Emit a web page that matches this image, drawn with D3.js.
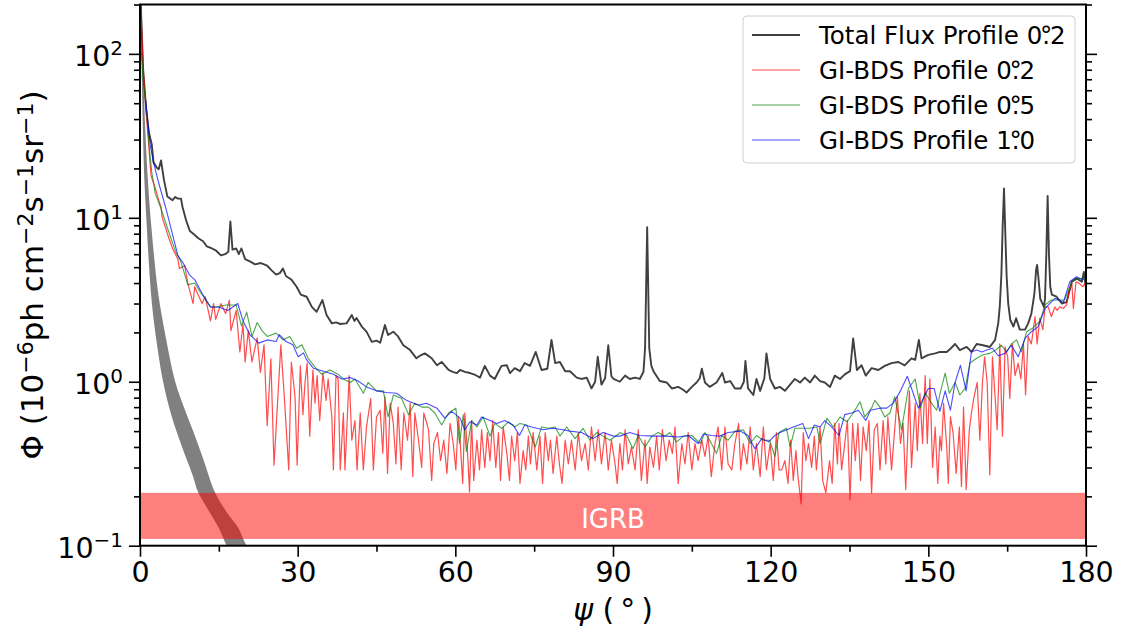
<!DOCTYPE html>
<html>
<head>
<meta charset="utf-8">
<script src="https://d3js.org/d3.v7.min.js"></script>
<style>
  body { margin: 0; background: #fff; }
  text { font-family: "DejaVu Sans", sans-serif; }
</style>
</head>
<body>
<div id="plot"></div>
<script>
// set the dimensions and margins of the graph
var margin = {top: 4.5, right: 35, bottom: 84.3, left: 140},
    width = 1121 - margin.left - margin.right,
    height = 630 - margin.top - margin.bottom;

// total flux profile 0.2 deg  [psi, flux]
var totalFlux = [[0.1,220],[0.6,80],[1.2,45],[1.7,33],[2.25,27.9],[2.57,21.8],[3.2,20.2],[3.56,19.8],[4.0,22.4],[4.55,17.1],[5.2,13.5],[6.2,12.8],[6.7,13.4],[7.2,13.1],[7.8,13.1],[8.1,11.6],[8.8,9.6],[9.5,8.3],[10.3,7.9],[11.1,7.5],[12.0,7.2],[12.7,6.7],[13.7,6.5],[14.5,6.3],[15.4,5.9],[16.2,6.0],[16.8,6.2],[17.2,9.5],[17.6,6.4],[18.3,6.5],[18.8,6.0],[19.3,6.5],[20.0,5.6],[21.0,5.4],[21.9,5.2],[23.0,5.3],[24.2,5.1],[25.0,4.8],[25.9,4.5],[26.6,4.6],[27.2,4.9],[27.8,4.4],[28.8,4.2],[29.8,3.8],[30.6,3.4],[31.7,3.3],[32.7,2.86],[33.6,2.67],[34.7,3.15],[35.5,2.55],[36.5,2.27],[37.3,2.3],[38.1,2.25],[39.3,2.27],[40.3,2.55],[40.8,2.35],[41.2,2.45],[42.2,2.17],[43.1,2.02],[44.1,1.75],[45.0,1.78],[45.7,1.73],[46.6,2.22],[47.2,1.93],[48.2,2.02],[49.1,1.89],[50.1,1.67],[51.4,1.56],[52.6,1.39],[53.4,1.45],[54.2,1.49],[55.5,1.39],[56.5,1.26],[57.4,1.32],[58.7,1.18],[59.5,1.15],[60.3,1.13],[60.9,1.18],[61.8,1.15],[62.8,1.13],[63.8,1.1],[64.7,1.06],[65.6,1.25],[66.6,1.09],[67.5,1.04],[68.2,1.15],[68.8,1.25],[69.8,1.26],[70.4,1.13],[71.3,1.21],[72.3,1.16],[73.2,1.30],[74.2,1.25],[75.3,1.52],[76.4,1.18],[77.5,1.2],[78.3,1.80],[79.0,1.30],[79.9,1.32],[80.9,1.16],[81.8,1.16],[83.1,1.06],[84.0,1.04],[85.0,1.06],[85.9,0.91],[86.6,1.0],[87.1,1.42],[87.8,0.96],[88.5,1.05],[89.1,1.67],[89.7,1.08],[90.1,1.04],[91.3,1.0],[92.3,1.09],[93.2,1.04],[94.2,1.06],[95.1,1.04],[95.8,1.15],[96.1,1.6],[96.5,8.75],[96.9,1.6],[97.3,1.25],[97.7,1.16],[98.9,1.01],[100.2,0.99],[101.2,0.91],[102.4,0.93],[103.2,0.9],[104.0,0.86],[105.0,0.93],[105.9,0.99],[106.5,1.05],[106.9,1.2],[107.5,0.99],[108.4,0.93],[109.7,0.99],[110.8,1.13],[111.3,0.99],[112.3,1.01],[113.2,0.91],[114.3,0.91],[114.9,1.0],[115.2,1.34],[115.7,0.91],[116.7,0.83],[117.3,1.04],[118.0,0.88],[118.8,1.05],[119.2,1.49],[119.9,1.04],[120.8,0.91],[121.8,0.93],[122.7,0.88],[123.7,0.96],[124.6,1.04],[125.6,0.99],[126.5,1.06],[127.5,0.99],[128.4,1.09],[129.4,1.01],[130.3,0.99],[131.3,0.93],[132.2,1.09],[133.2,1.04],[134.1,1.11],[135.1,1.16],[135.7,1.84],[136.4,1.18],[137.3,1.26],[138.1,1.09],[139.2,1.21],[140.5,1.18],[141.7,1.25],[143.0,1.30],[144.3,1.32],[145.5,1.26],[146.8,1.39],[147.5,1.36],[148.2,1.80],[148.7,1.39],[150.0,1.46],[151.3,1.49],[152.2,1.52],[153.5,1.52],[154.3,1.6],[155.1,1.70],[156.0,1.56],[157.3,1.63],[158.2,1.52],[159.2,1.70],[160.4,1.67],[161.7,1.63],[162.7,1.80],[163.3,2.27],[163.6,2.9],[163.9,4.5],[164.15,9],[164.4,15.1],[164.65,8],[164.9,4.4],[165.2,3.0],[165.6,2.38],[166.2,2.17],[166.7,2.44],[167.4,2.08],[168.4,2.08],[169.0,2.27],[169.6,2.6],[170.0,3.15],[170.2,3.5],[170.5,4.8],[170.7,5.15],[170.95,4.3],[171.3,3.2],[172.0,2.86],[172.2,3.2],[172.45,6],[172.7,13.6],[172.95,6],[173.2,3.8],[173.5,3.4],[174.4,3.3],[175.4,3.0],[176.3,3.06],[177.3,4.07],[178.2,4.27],[179.2,4.07],[179.6,4.67],[180.0,3.7]];

// GI-BDS profile 0.2 deg
var bds02 = [[0.1,220],[0.6,81],[1.26,41],[2.1,18],[2.9,15.2],[3.5,13],[4.0,11.6],[4.2,10.1],[5.5,7.5],[6.2,6.5],[7.2,5.6],[7.5,4.9],[8.5,5.1],[9.1,4.0],[10.1,3.0],[10.4,3.8],[11.8,3.0],[12.4,3.3],[13.4,2.35],[14.0,3.0],[14.4,2.4],[15.4,3.0],[16.3,2.6],[17.0,3.15],[17.3,2.05],[18.3,2.72],[19.0,1.52],[19.6,2.25],[20.0,1.32],[20.6,2.05],[21.3,1.32],[22.3,1.85],[22.9,1.14],[23.6,1.68],[24.2,0.54],[24.9,1.38],[25.5,0.31],[26.2,0.77],[26.8,1.68],[27.5,0.77],[28.3,0.29],[28.8,1.32],[29.5,0.81],[29.9,0.31],[30.5,1.25],[31.0,0.63],[31.4,0.99],[31.8,1.30],[32.3,0.466],[32.9,1.18],[33.3,0.74],[33.7,1.09],[34.2,0.58],[34.8,1.13],[35.4,0.77],[35.8,1.04],[36.5,0.61],[36.8,0.29],[37.3,1.09],[37.7,1.04],[38.1,0.29],[38.7,0.645],[39.0,0.29],[39.8,1.09],[40.3,0.44],[40.9,0.58],[41.3,0.29],[41.9,0.645],[42.5,0.29],[43.1,0.53],[43.9,0.79],[44.4,0.29],[45.0,0.61],[45.7,0.67],[46.2,0.366],[46.6,0.81],[47.1,0.276],[47.6,0.74],[48.2,0.557],[48.7,0.315],[49.1,0.70],[49.7,0.29],[50.2,0.645],[50.9,0.44],[51.4,0.74],[51.9,0.264],[52.3,0.645],[53.0,0.44],[53.6,0.30],[54.0,0.645],[54.9,0.51],[55.5,0.25],[55.9,0.42],[56.6,0.49],[57.2,0.33],[57.8,0.44],[58.4,0.276],[59.0,0.557],[59.6,0.42],[60.1,0.29],[60.6,0.61],[60.9,0.44],[61.4,0.24],[61.8,0.645],[62.3,0.38],[62.7,0.213],[63.1,0.58],[63.5,0.25],[64.1,0.44],[64.6,0.29],[65.0,0.51],[65.6,0.30],[66.1,0.49],[66.6,0.33],[67.1,0.58],[67.7,0.30],[68.2,0.49],[68.6,0.25],[69.1,0.53],[69.8,0.366],[70.3,0.25],[70.7,0.466],[71.3,0.33],[71.8,0.49],[72.3,0.24],[72.9,0.38],[73.4,0.29],[73.9,0.466],[74.3,0.315],[74.8,0.49],[75.5,0.29],[76.1,0.466],[76.6,0.24],[77.1,0.49],[77.7,0.33],[78.1,0.44],[78.6,0.276],[79.3,0.466],[79.8,0.315],[80.3,0.24],[80.9,0.44],[81.5,0.315],[82.1,0.44],[82.8,0.29],[83.4,0.49],[84.0,0.33],[84.7,0.42],[85.3,0.29],[85.9,0.53],[86.6,0.33],[87.2,0.51],[87.8,0.315],[88.5,0.49],[89.1,0.29],[89.7,0.44],[90.4,0.315],[90.8,0.24],[91.3,0.42],[91.8,0.29],[92.3,0.51],[92.9,0.315],[93.5,0.40],[94.2,0.29],[94.8,0.51],[95.4,0.25],[96.1,0.44],[96.5,0.24],[97.0,0.40],[97.7,0.30],[98.3,0.466],[98.8,0.29],[99.4,0.51],[100.1,0.33],[100.7,0.44],[101.3,0.366],[101.8,0.53],[102.4,0.24],[103.1,0.42],[103.7,0.315],[104.3,0.49],[105.0,0.29],[105.6,0.42],[106.2,0.33],[106.9,0.44],[107.5,0.35],[108.1,0.466],[108.7,0.264],[109.4,0.42],[110.0,0.53],[110.7,0.29],[111.3,0.53],[111.9,0.315],[112.6,0.29],[113.2,0.42],[113.9,0.557],[114.3,0.29],[114.8,0.42],[115.5,0.315],[116.1,0.53],[116.7,0.29],[117.3,0.42],[118.0,0.264],[118.6,0.53],[119.2,0.29],[119.9,0.42],[120.5,0.25],[121.1,0.49],[121.6,0.29],[122.1,0.29],[122.7,0.33],[123.3,0.24],[123.8,0.44],[124.3,0.25],[124.8,0.38],[125.2,0.264],[125.8,0.18],[126.2,0.49],[126.7,0.33],[127.2,0.42],[127.8,0.30],[128.3,0.466],[128.7,0.29],[129.4,0.53],[129.9,0.25],[130.5,0.21],[131.2,0.33],[131.7,0.24],[132.2,0.557],[132.7,0.315],[133.0,0.557],[133.5,0.29],[134.1,0.42],[134.6,0.58],[135.1,0.19],[135.6,0.557],[136.1,0.33],[136.6,0.557],[137.1,0.25],[137.6,0.53],[138.2,0.38],[138.7,0.58],[139.2,0.21],[139.7,0.51],[140.3,0.557],[140.8,0.29],[141.4,0.58],[141.9,0.315],[142.3,0.61],[143.0,0.29],[143.5,0.466],[144.1,0.81],[144.7,0.42],[145.2,0.557],[145.7,0.22],[146.4,0.88],[146.8,0.30],[147.5,0.74],[147.9,0.38],[148.4,0.85],[148.9,0.42],[149.4,1.09],[149.8,0.42],[150.3,1.04],[150.8,0.30],[151.3,0.53],[151.8,0.24],[152.2,0.466],[152.5,0.38],[152.9,0.74],[153.5,0.40],[153.8,0.24],[154.2,0.61],[154.7,0.49],[155.3,0.276],[155.9,0.53],[156.3,0.23],[156.7,0.70],[157.2,0.22],[157.8,0.51],[158.2,0.645],[158.7,0.81],[159.3,0.99],[159.8,0.44],[160.3,0.99],[160.7,1.42],[161.2,0.99],[161.7,0.27],[162.2,1.42],[162.7,0.81],[163.1,0.51],[163.6,1.70],[164.1,0.466],[164.6,1.63],[165.1,1.42],[165.5,0.79],[166.0,1.70],[166.5,1.09],[167.1,1.30],[167.6,1.04],[168.1,1.70],[168.5,0.83],[169.0,1.89],[169.6,1.70],[170.3,2.5],[170.7,1.70],[171.2,2.44],[171.8,2.08],[172.2,2.86],[172.8,2.86],[173.4,2.5],[174.1,2.86],[174.5,2.72],[175.0,2.86],[175.7,2.8],[176.3,2.94],[176.8,3.6],[177.3,3.98],[177.6,2.8],[178.1,4.07],[178.7,3.98],[179.4,3.8],[180.0,4.07]];

// GI-BDS profile 0.5 deg
var bds05 = [[0.27,103],[0.6,70],[1.26,45],[1.7,28],[2.25,18.9],[2.9,14.1],[3.9,11.6],[5.2,8.7],[6.8,6.2],[7.8,5.37],[9.1,3.9],[10.4,4.0],[11.4,3.55],[13.4,2.86],[14.7,2.86],[16.3,2.94],[18.3,2.94],[19.3,2.19],[20.3,2.66],[21.3,1.89],[22.3,2.3],[23.2,2.05],[24.2,1.89],[25.9,1.98],[27.2,1.80],[28.5,1.89],[29.8,1.6],[30.8,1.68],[32.0,1.39],[33.3,1.23],[34.6,1.11],[36.1,1.18],[37.7,1.11],[38.7,1.04],[40.0,0.99],[40.9,1.04],[42.5,0.85],[43.4,0.99],[45.0,0.88],[46.3,0.88],[47.2,0.61],[48.2,0.83],[49.8,0.79],[51.1,0.63],[52.3,0.74],[53.6,0.70],[54.9,0.70],[56.1,0.645],[57.4,0.545],[58.7,0.645],[60.1,0.69],[60.8,0.42],[61.5,0.63],[62.1,0.374],[63.1,0.58],[64.1,0.53],[65.3,0.61],[66.6,0.466],[67.5,0.557],[68.8,0.52],[70.1,0.57],[71.3,0.53],[72.3,0.557],[73.6,0.545],[75.2,0.40],[76.4,0.53],[77.7,0.52],[79.0,0.53],[79.9,0.466],[81.2,0.53],[82.8,0.45],[84.3,0.52],[85.6,0.44],[86.9,0.49],[88.1,0.466],[89.4,0.44],[90.7,0.47],[91.3,0.49],[92.6,0.47],[93.8,0.39],[94.8,0.47],[96.1,0.40],[97.4,0.466],[98.6,0.49],[99.9,0.466],[100.8,0.49],[102.1,0.43],[103.4,0.466],[105.0,0.47],[106.6,0.42],[107.5,0.49],[108.4,0.44],[109.7,0.366],[110.7,0.47],[111.9,0.44],[113.2,0.50],[114.8,0.51],[116.1,0.42],[117.3,0.47],[118.6,0.44],[119.8,0.44],[120.8,0.35],[121.6,0.49],[123.0,0.52],[123.7,0.40],[124.6,0.52],[125.9,0.52],[127.5,0.52],[128.8,0.53],[129.4,0.42],[130.7,0.60],[131.9,0.53],[133.2,0.61],[134.5,0.57],[135.7,0.645],[137.0,0.755],[137.9,0.61],[139.2,0.69],[139.8,0.77],[140.8,0.70],[141.7,0.61],[142.7,0.645],[143.6,0.81],[144.9,0.51],[146.2,0.91],[147.5,1.04],[148.5,0.69],[149.4,0.86],[150.6,0.74],[151.6,0.67],[152.2,0.84],[153.2,1.13],[154.0,0.85],[155.1,0.99],[156.0,0.83],[157.0,0.91],[157.9,1.30],[159.2,1.39],[160.4,1.46],[161.7,1.49],[162.8,1.56],[163.9,1.67],[164.9,1.52],[165.8,1.70],[166.8,1.80],[167.7,1.52],[168.7,2.02],[169.9,2.13],[171.2,2.33],[172.2,2.94],[173.4,3.15],[174.7,3.15],[175.9,3.15],[177.3,4.07],[178.5,4.27],[179.8,4.2]];

// GI-BDS profile 1.0 deg
var bds10 = [[1.07,52],[1.93,27.9],[2.57,21.8],[3.56,16.3],[4.87,11.6],[6.2,7.9],[7.2,5.9],[8.1,5.37],[9.5,4.45],[10.4,4.2],[11.8,3.47],[13.4,2.86],[15.0,2.86],[16.7,2.72],[18.6,3.0],[19.6,2.35],[20.9,1.94],[22.6,1.72],[24.2,1.80],[25.9,1.76],[26.5,1.94],[27.8,1.76],[29.1,1.68],[30.1,1.42],[31.1,1.50],[31.7,1.36],[33.0,1.21],[34.9,1.16],[36.8,1.11],[38.4,1.04],[40.0,1.06],[41.5,1.01],[43.1,0.93],[45.0,0.88],[46.9,0.86],[48.8,0.85],[50.7,0.77],[53.0,0.72],[54.5,0.74],[56.5,0.69],[58.0,0.60],[59.3,0.66],[60.9,0.60],[61.8,0.51],[62.8,0.57],[64.1,0.545],[65.0,0.61],[66.6,0.58],[67.9,0.557],[69.4,0.58],[71.0,0.545],[72.2,0.47],[73.2,0.545],[74.5,0.53],[76.7,0.51],[78.6,0.52],[80.5,0.51],[81.8,0.50],[84.0,0.49],[86.2,0.45],[88.1,0.49],[90.1,0.466],[91.3,0.466],[93.2,0.49],[95.1,0.47],[97.7,0.466],[100.2,0.466],[102.4,0.46],[104.3,0.47],[106.2,0.42],[107.2,0.48],[108.7,0.47],[110.3,0.466],[111.9,0.49],[114.2,0.50],[115.7,0.47],[117.0,0.39],[118.3,0.45],[119.6,0.43],[120.8,0.47],[121.8,0.49],[124.3,0.53],[126.1,0.557],[127.2,0.45],[128.3,0.545],[129.4,0.53],[130.3,0.58],[131.6,0.53],[133.0,0.47],[134.1,0.63],[135.4,0.645],[136.7,0.67],[138.1,0.58],[139.0,0.67],[140.8,0.69],[142.1,0.69],[143.3,0.74],[144.7,0.88],[146.0,1.08],[148.1,0.69],[150.0,0.91],[151.1,0.91],[152.2,0.66],[153.2,0.88],[154.2,0.67],[155.1,0.99],[156.1,1.26],[157.2,0.88],[158.2,1.52],[159.2,1.56],[160.2,1.52],[161.1,1.56],[162.2,1.60],[163.3,1.44],[164.6,1.49],[165.8,1.67],[167.1,1.42],[168.4,1.84],[169.6,2.02],[170.9,2.17],[172.2,2.8],[174.1,3.23],[175.7,3.06],[176.9,4.07],[178.2,4.37],[179.5,4.17]];

// grey band: lower and upper edge [psi, flux]
var bandLow = [[0.12,260],[0.15,200],[0.3,90],[0.5,40],[0.8,18],[1.2,10],[1.7,5.2],[2.2,3.15],[3.0,1.9],[4.4,1.0],[6.0,0.62],[8.0,0.4],[10.0,0.27],[11.1,0.21],[13.0,0.165],[15.0,0.128],[16.5,0.1],[17.5,0.09]];
var bandHigh = [[0.25,260],[0.3,200],[0.6,80],[1.0,35],[1.5,17],[2.2,8.5],[3.5,3.4],[5.0,1.8],[6.7,1.0],[8.5,0.68],[10.1,0.5],[12.0,0.34],[14.3,0.21],[16.5,0.16],[18.6,0.13],[20.3,0.1],[21.5,0.09]];

// IGRB level
var igrb = [0.11, 0.21];

var xTicks = [0, 30, 60, 90, 120, 150, 180],
    xMinor = [15, 45, 75, 105, 135, 165],
    yTicks = [0.1, 1, 10, 100],
    yExp = ["\u22121", "0", "1", "2"],
    yMinor = [0.2,0.3,0.4,0.5,0.6,0.7,0.8,0.9,2,3,4,5,6,7,8,9,20,30,40,50,60,70,80,90,200];

var legendItems = [
  {label: "Total Flux Profile 0", dec: "2", color: "#404040", w: 1.8},
  {label: "GI-BDS Profile 0", dec: "2", color: "rgba(255,0,0,0.7)", w: 1.2},
  {label: "GI-BDS Profile 0", dec: "5", color: "rgba(0,128,0,0.7)", w: 1.2},
  {label: "GI-BDS Profile 1", dec: "0", color: "rgba(0,0,255,0.7)", w: 1.2}
];

var svg = d3.select("#plot")
  .append("svg")
  .attr("width", 1121)
  .attr("height", 630)
  .append("g")
  .attr("transform", "translate(" + margin.left + "," + margin.top + ")");

var x = d3.scaleLinear().domain([0, 180]).range([0, width]);
var y = d3.scaleLog().domain([0.1, 200]).range([height, 0]);

svg.append("clipPath").attr("id", "clip")
  .append("rect").attr("width", width).attr("height", height);

var plot = svg.append("g").attr("clip-path", "url(#clip)");

// grey band
var band = bandLow.concat(bandHigh.slice().reverse());
plot.append("path")
  .datum(band)
  .attr("fill", "#808080")
  .attr("d", d3.line()
    .curve(d3.curveCatmullRomClosed)
    .x(function(d) { return x(d[0]) })
    .y(function(d) { return y(d[1]) }));

// IGRB band
plot.append("rect")
  .attr("x", x(0))
  .attr("width", x(180) - x(0))
  .attr("y", y(igrb[1]))
  .attr("height", y(igrb[0]) - y(igrb[1]))
  .attr("fill", "rgba(255,0,0,0.5)");

var line = d3.line()
  .x(function(d) { return x(d[0]) })
  .y(function(d) { return y(d[1]) });

var series = [
  {data: totalFlux, color: "#404040", w: 1.9},
  {data: bds02, color: "rgba(255,0,0,0.7)", w: 1.2},
  {data: bds05, color: "rgba(0,128,0,0.7)", w: 1.1},
  {data: bds10, color: "rgba(0,0,255,0.7)", w: 1.1}
];

for (var s of series) {
  plot.append("path")
    .datum(s.data)
    .attr("fill", "none")
    .attr("stroke", s.color)
    .attr("stroke-width", s.w)
    .attr("stroke-linejoin", "round")
    .attr("d", line);
}

plot.append("text")
  .attr("x", x(90))
  .attr("y", y(Math.sqrt(igrb[0] * igrb[1])) + 12)
  .attr("text-anchor", "middle")
  .attr("fill", "#fff")
  .style("font-size", "26px")
  .text("IGRB");

// axes
var tickStyle = function(g, size) {
  g.selectAll(".domain").remove();
  g.selectAll(".tick line").attr("stroke-width", 1.6);
  g.selectAll("text").style("font-size", size);
};

svg.append("g")
  .attr("transform", "translate(0," + height + ")")
  .call(d3.axisBottom(x).tickValues(xTicks).tickSize(11).tickPadding(5).tickFormat(d3.format("d")))
  .call(tickStyle, "28.5px");
svg.append("g")
  .attr("transform", "translate(0," + height + ")")
  .call(d3.axisBottom(x).tickValues(xMinor).tickSize(6).tickFormat(""))
  .call(tickStyle, "0px");

var yAxis = svg.append("g")
  .call(d3.axisLeft(y).tickValues(yTicks).tickSize(11).tickPadding(6))
  .call(tickStyle, "28.5px");
yAxis.selectAll(".tick text").each(function(d, i) {
  var t = d3.select(this).text("10").attr("dy", "0.4em");
  t.append("tspan").attr("dy", "-0.55em").style("font-size", "20px").text(yExp[i]);
});
svg.append("g")
  .call(d3.axisLeft(y).tickValues(yMinor).tickSize(6).tickFormat(""))
  .call(tickStyle, "0px");

svg.append("g")
  .attr("transform", "translate(" + width + ",0)")
  .call(d3.axisRight(y).tickValues(yTicks).tickSize(11).tickFormat(""))
  .call(tickStyle, "0px");
svg.append("g")
  .attr("transform", "translate(" + width + ",0)")
  .call(d3.axisRight(y).tickValues(yMinor).tickSize(6).tickFormat(""))
  .call(tickStyle, "0px");

// frame
svg.append("rect")
  .attr("width", width)
  .attr("height", height)
  .attr("fill", "none")
  .attr("stroke", "#000")
  .attr("stroke-width", 2);

// axis labels
svg.append("text")
  .attr("x", width / 2)
  .attr("y", height + 74)
  .attr("text-anchor", "middle")
  .style("font-size", "30px")
  .call(function(t) {
    t.append("tspan").style("font-style", "italic").text("\u03C8");
    t.append("tspan").text(" (\u2009\u00B0\u2009)");
  });

var ylab = svg.append("text")
  .attr("transform", "translate(" + (43 - margin.left) + "," + (275 - margin.top) + ") rotate(-90)")
  .attr("text-anchor", "middle")
  .style("font-size", "31px");
var ylabParts = [["\u03A6 (10", 0], ["\u22126", 1], ["ph cm", 0], ["\u22122", 1], ["s", 0], ["\u22121", 1], ["sr", 0], ["\u22121", 1], [")", 0]];
var up = false;
for (var p of ylabParts) {
  var ts = ylab.append("tspan").text(p[0]);
  if (p[1] && !up) { ts.attr("dy", "-0.45em").style("font-size", "22px"); up = true; }
  else if (p[1]) { ts.style("font-size", "22px"); }
  else if (!p[1] && up) { ts.attr("dy", "0.32em"); up = false; }
}

// legend
var lg = svg.append("g").attr("transform", "translate(" + (743 - margin.left) + "," + (16 - margin.top) + ")");
lg.append("rect")
  .attr("width", 332).attr("height", 147)
  .attr("rx", 4)
  .attr("fill", "rgba(255,255,255,0.8)")
  .attr("stroke", "#d0d0d0");
legendItems.forEach(function(d, i) {
  var yy = 19 + i * 35;
  lg.append("line")
    .attr("x1", 9).attr("x2", 57)
    .attr("y1", yy).attr("y2", yy)
    .attr("stroke", d.color)
    .attr("stroke-width", d.w);
  var t = lg.append("text")
    .attr("x", 76).attr("y", yy + 8.5)
    .style("font-size", "24.5px");
  t.append("tspan").text(d.label + ".");
  t.append("tspan").attr("dx", "-0.41em").text("\u00B0");
  t.append("tspan").attr("dx", "-0.09em").text(d.dec);
});
</script>
</body>
</html>
